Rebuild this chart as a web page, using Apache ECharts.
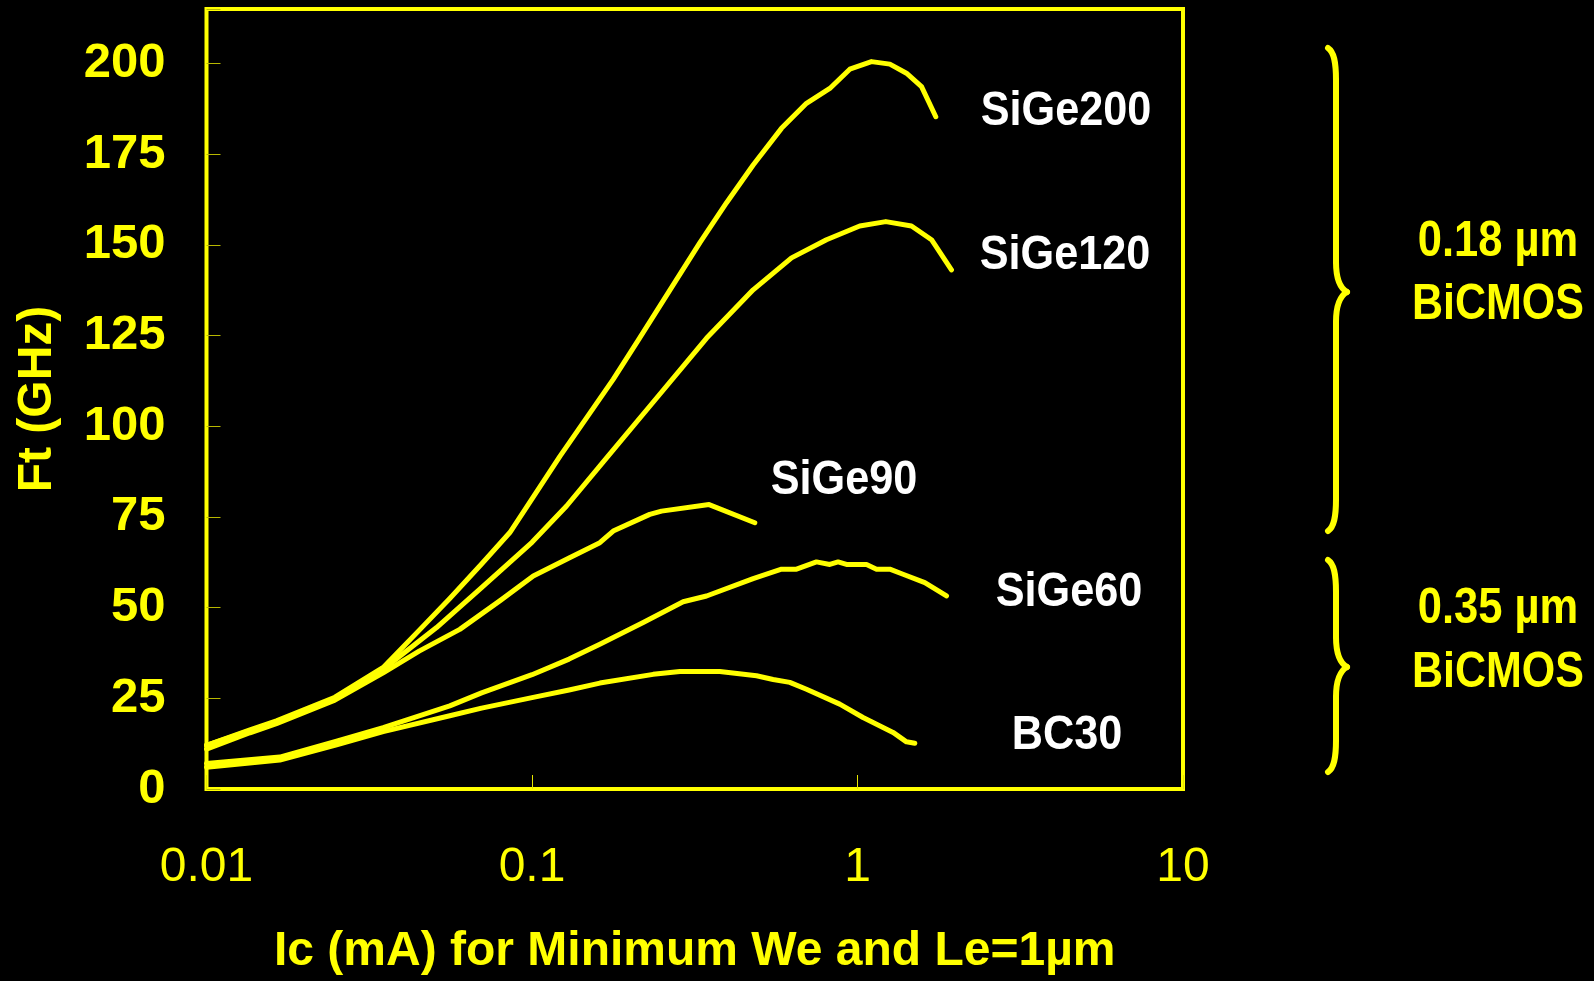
<!DOCTYPE html>
<html>
<head>
<meta charset="utf-8">
<script src="https://cdn.jsdelivr.net/npm/echarts@6/dist/echarts.min.js"></script>
<style>
  html, body { margin: 0; padding: 0; background: #000; }
  #chart { width: 1594px; height: 981px; }
</style>
</head>
<body>
<div id="chart"></div>
<script>
// Cut-off frequency Ft (GHz) versus collector current Ic (mA), pairs of [Ic, Ft]
const sige200 = [
  [0.01, 12], [0.0136, 16.3], [0.0164, 18.8], [0.0248, 25.3], [0.0349, 33.5],
  [0.0453, 44], [0.0559, 52.5], [0.07, 62], [0.0855, 70.7], [0.1, 80],
  [0.1218, 91.7], [0.15, 103.4], [0.1776, 112.9], [0.2145, 124.4], [0.27, 138.6],
  [0.328, 150.6], [0.396, 161.6], [0.478, 172], [0.584, 182.1], [0.697, 189],
  [0.822, 193.1], [0.947, 198.4], [1.104, 200.5], [1.257, 199.8], [1.414, 197.3],
  [1.573, 193.6], [1.74, 185.3]
];
const sige120 = [
  [0.01, 12], [0.0136, 16.1], [0.0164, 18.5], [0.0248, 25], [0.0349, 33],
  [0.0509, 44.5], [0.07, 55.5], [0.1, 68], [0.1277, 78], [0.17, 91.4],
  [0.23, 105.5], [0.344, 124.3], [0.478, 137.6], [0.627, 146.4], [0.803, 151.4],
  [1.016, 155.2], [1.222, 156.4], [1.465, 155.2], [1.688, 151.4], [1.944, 143.1]
];
const sige90 = [
  [0.01, 11], [0.0136, 15.5], [0.0164, 18], [0.0248, 24.5], [0.0349, 32],
  [0.045, 38], [0.06, 44], [0.08, 52], [0.1009, 58.7], [0.13, 63.7],
  [0.1616, 67.9], [0.1776, 71.1], [0.23, 75.7], [0.25, 76.6], [0.35, 78.4],
  [0.4836, 73.4]
];
const sige60 = [
  [0.01, 7], [0.0168, 8.8], [0.0251, 13.2], [0.0349, 16.9], [0.0559, 22.9],
  [0.07, 26.5], [0.1, 31.5], [0.13, 35.8], [0.1616, 39.9], [0.2196, 45.9],
  [0.2913, 51.6], [0.3437, 53.2], [0.478, 58], [0.5255, 59.2], [0.5843, 60.6],
  [0.6497, 60.6], [0.748, 62.6], [0.822, 61.9], [0.8717, 62.6], [0.925, 61.9],
  [1.066, 61.9], [1.144, 60.6], [1.257, 60.6], [1.38, 59.2], [1.61, 56.9],
  [1.877, 53.2]
];
const bc30 = [
  [0.01, 6], [0.0168, 8], [0.0251, 12.2], [0.0349, 15.8], [0.0559, 20.2],
  [0.07, 22.3], [0.1, 25.2], [0.13, 27.3], [0.1616, 29.2], [0.2356, 31.6],
  [0.2846, 32.4], [0.3776, 32.4], [0.4896, 31.2], [0.5506, 30.2], [0.6195, 29.4],
  [0.697, 27.5], [0.882, 23.4], [1.04, 19.7], [1.286, 15.6], [1.414, 13.0],
  [1.5, 12.6]
];

const seriesNames = ['SiGe200', 'SiGe120', 'SiGe90', 'SiGe60', 'BC30'];
const seriesData = [sige200, sige120, sige90, sige60, bc30];

const yTickStep = 25;
const yMin = 0;
const yMax = 215;
const xMin = 0.01;
const xMax = 10;

const xTitle = 'Ic (mA) for Minimum We and Le=1µm';
const yTitle = 'Ft (GHz)';
const groupLabels = [['0.18 µm', 'BiCMOS'], ['0.35 µm', 'BiCMOS']];

const YELLOW = '#ffff00';
const FONT = '"Liberation Sans", Arial, Helvetica, sans-serif';

const chart = echarts.init(document.getElementById('chart'), null, { renderer: 'canvas' });

function labelText(text, x, y, size, color, sx) {
  return {
    type: 'text',
    x: x, y: y,
    scaleX: sx || 1,
    style: {
      text: text,
      fill: color,
      font: 'bold ' + size + 'px ' + FONT,
      align: 'center',
      verticalAlign: 'middle'
    },
    z: 10
  };
}

// Curly brace built from bezier curves and straight strokes
function brace(top, mid, bottom) {
  const xs = 1328, xb = 1336, xt = 1347;
  const st = { stroke: YELLOW, lineWidth: 6, fill: null, lineCap: 'round' };
  function curve(x1, y1, c1x, c1y, c2x, c2y, x2, y2) {
    return {
      type: 'bezierCurve',
      shape: { x1: x1, y1: y1, cpx1: c1x, cpy1: c1y, cpx2: c2x, cpy2: c2y, x2: x2, y2: y2 },
      style: st, z: 10
    };
  }
  function seg(x1, y1, x2, y2) {
    return { type: 'line', shape: { x1: x1, y1: y1, x2: x2, y2: y2 }, style: st, z: 10 };
  }
  return [
    curve(xs, top, xs + 6, top + 4, xb, top + 14, xb, top + 32),
    seg(xb, top + 32, xb, mid - 30),
    curve(xb, mid - 30, xb, mid - 12, xb + 4, mid - 4, xt, mid),
    curve(xt, mid, xb + 4, mid + 4, xb, mid + 12, xb, mid + 30),
    seg(xb, mid + 30, xb, bottom - 32),
    curve(xb, bottom - 32, xb, bottom - 14, xs + 6, bottom - 4, xs, bottom)
  ];
}

const option = {
  backgroundColor: '#000000',
  animation: false,
  grid: {
    left: 206.5, top: 9, right: 411, bottom: 191,
    show: true,
    borderColor: YELLOW,
    borderWidth: 4,
    backgroundColor: 'transparent'
  },
  xAxis: {
    type: 'log',
    logBase: 10,
    min: xMin,
    max: xMax,
    name: xTitle,
    nameLocation: 'middle',
    nameGap: 139,
    nameTextStyle: { color: YELLOW, fontSize: 48, fontWeight: 'bold', fontFamily: FONT },
    axisLine: { show: false },
    axisTick: { show: true, inside: true, length: 14, lineStyle: { color: '#e6e600', width: 1 } },
    axisLabel: {
      color: YELLOW, fontSize: 48, fontFamily: FONT, margin: 55,
      formatter: function (v) { return String(+(+v).toPrecision(3)); }
    },
    splitLine: { show: false }
  },
  yAxis: {
    type: 'value',
    min: yMin,
    max: yMax,
    interval: yTickStep,
    name: yTitle,
    nameLocation: 'middle',
    nameGap: 145,
    nameTextStyle: { color: YELLOW, fontSize: 48, fontWeight: 'bold', fontFamily: FONT },
    axisLine: { show: false },
    axisTick: { show: true, inside: true, length: 14, lineStyle: { color: '#b8b800', width: 1 } },
    axisLabel: {
      color: YELLOW, fontSize: 49, fontWeight: 'bold', fontFamily: FONT, margin: 41,
      formatter: function (v) { return v % yTickStep === 0 ? String(v) : ''; }
    },
    splitLine: { show: false }
  },
  series: seriesNames.map(function (name, i) {
    return {
      name: name,
      type: 'line',
      data: seriesData[i],
      showSymbol: false,
      symbol: 'none',
      smooth: false,
      lineStyle: { color: YELLOW, width: 5, cap: 'round', join: 'round' },
      z: 5
    };
  }),
  graphic: [
    labelText(seriesNames[0], 1066, 112, 48, '#ffffff', 0.9),
    labelText(seriesNames[1], 1065, 256, 48, '#ffffff', 0.9),
    labelText(seriesNames[2], 844, 481, 48, '#ffffff', 0.9),
    labelText(seriesNames[3], 1069, 593, 48, '#ffffff', 0.9),
    labelText(seriesNames[4], 1067, 736, 48, '#ffffff', 0.9),
    labelText(groupLabels[0][0], 1498, 242, 50, YELLOW, 0.87),
    labelText(groupLabels[0][1], 1498, 305, 50, YELLOW, 0.86),
    labelText(groupLabels[1][0], 1498, 609, 50, YELLOW, 0.87),
    labelText(groupLabels[1][1], 1498, 673, 50, YELLOW, 0.86)
  ].concat(brace(48, 292, 531), brace(560, 667, 772))
};

chart.setOption(option);
</script>
</body>
</html>
